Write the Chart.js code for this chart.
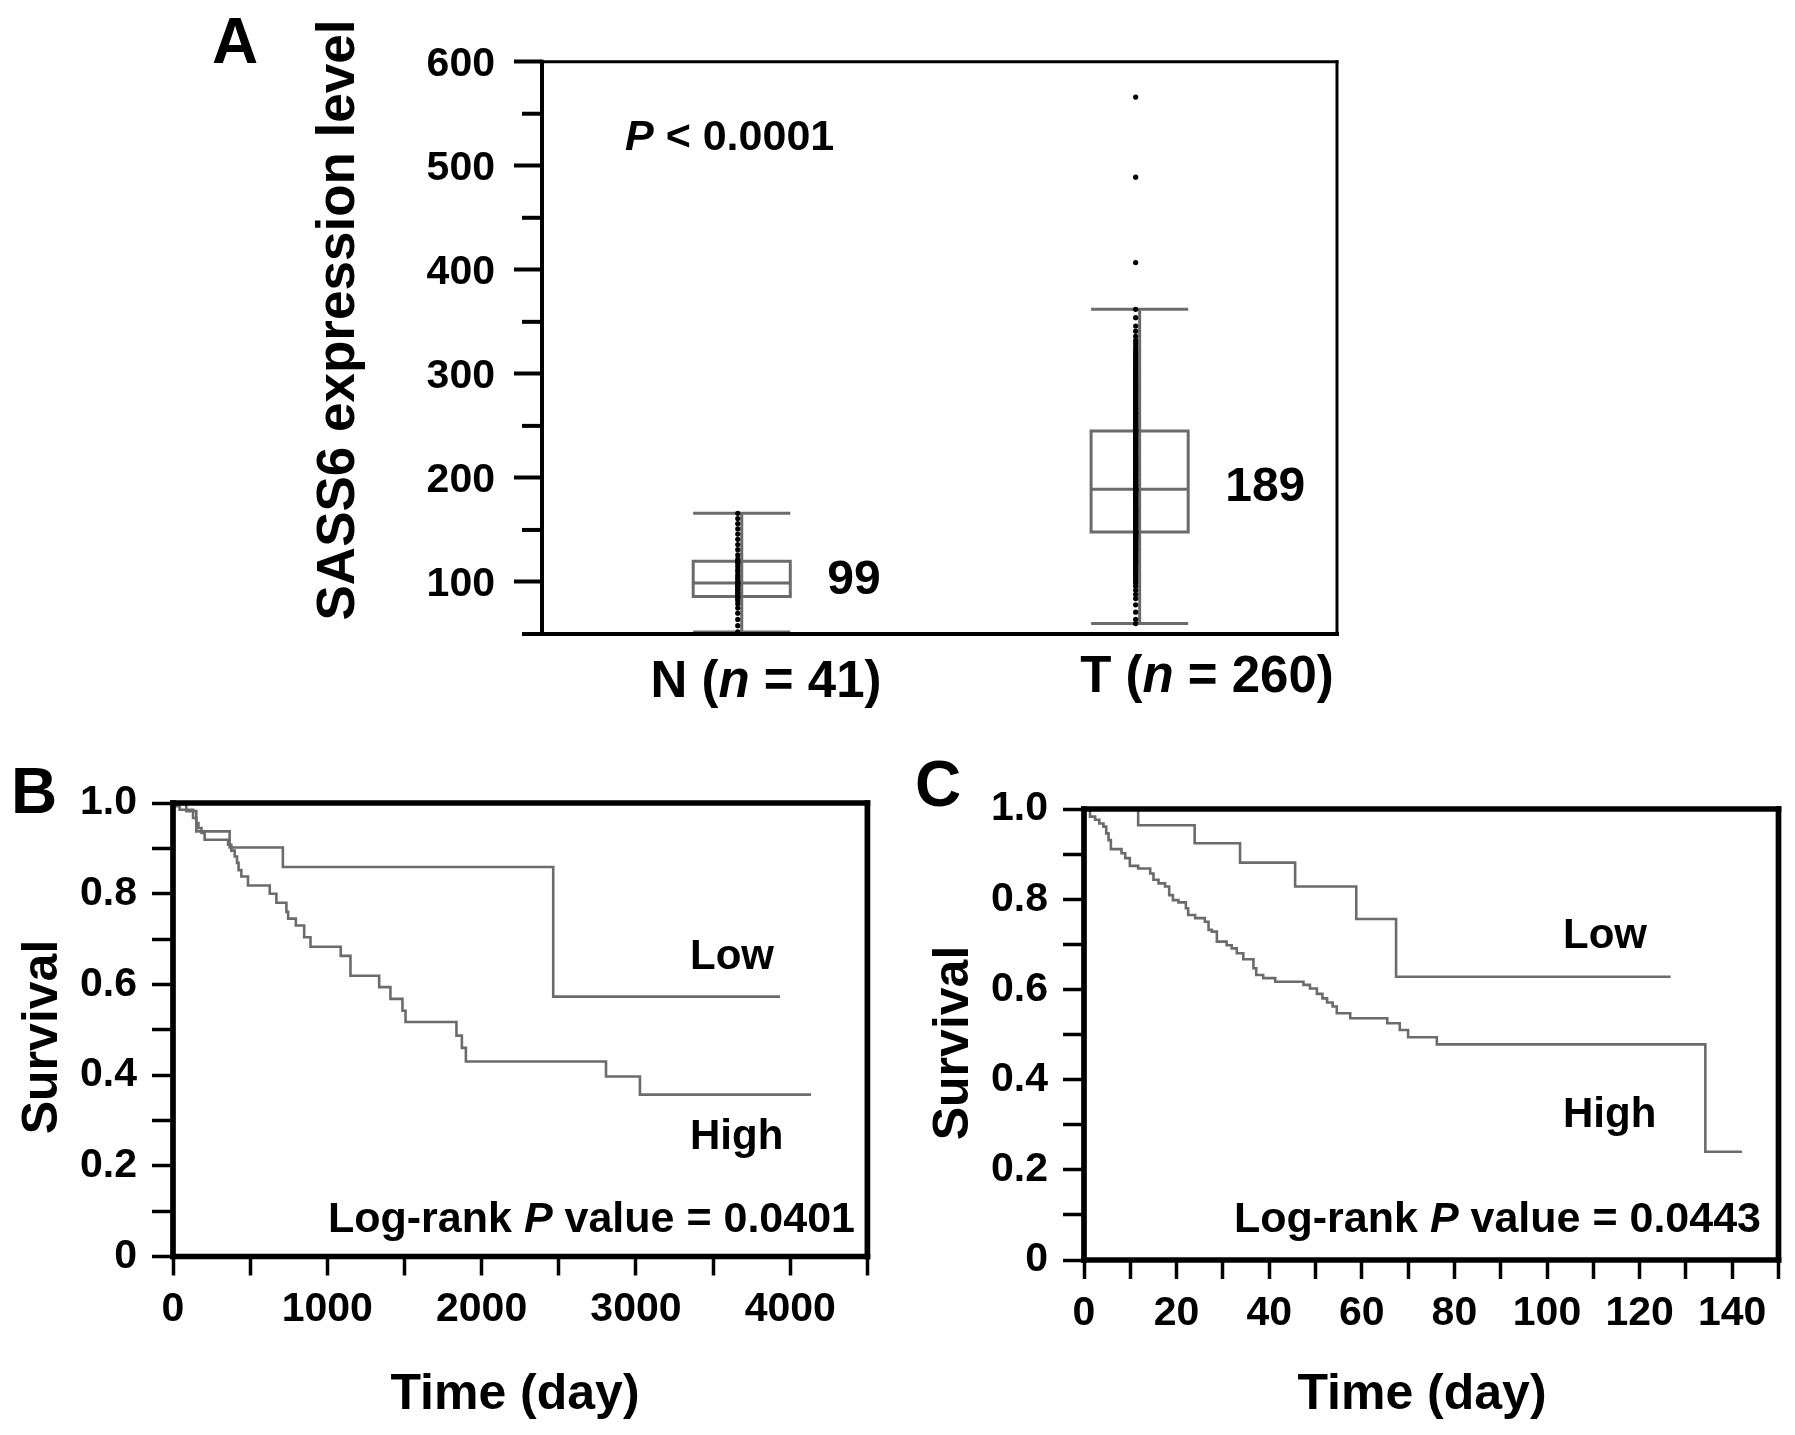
<!DOCTYPE html>
<html>
<head>
<meta charset="utf-8">
<script src="https://cdn.jsdelivr.net/npm/chart.js@4.4.1/dist/chart.umd.min.js"></script>
<style>
  html, body { margin: 0; padding: 0; background: #fff; }
  #wrap { position: relative; width: 1795px; height: 1435px; background: #fff; }
  #wrap canvas { position: absolute; left: 0; top: 0; }
</style>
</head>
<body>
<div id="wrap">
  <canvas id="chartA" width="1795" height="1435"></canvas>
  <canvas id="chartB" width="1795" height="1435"></canvas>
  <canvas id="chartC" width="1795" height="1435"></canvas>
</div>
<script>
// ---- panel A: SASS6 expression, normal vs tumour ----
const groups = ['N', 'T'];
const groupSizes = [41, 260];
const q1 = [86, 148];
const medians = [99, 189];
const q3 = [120, 245];
const whiskLo = [52, 60];
const whiskHi = [166, 362];
const exprN = [
  52, 58, 64, 70, 75, 79, 82, 84, 85, 86,
  87, 89, 90, 92, 93, 95, 96, 97, 98, 99,
  99, 101, 103, 105, 107, 110, 112, 115, 118, 119,
  120, 122, 126, 131, 136, 141, 146, 151, 156, 161,
  166
];
const exprT = [
  60, 64, 71, 78, 84, 88, 92, 96, 99, 101,
  103, 105, 107, 109, 110, 112, 113, 114, 116, 117,
  118, 119, 120, 121, 122, 123, 124, 125, 126, 127,
  128, 129, 130, 131, 132, 132, 133, 134, 135, 136,
  136, 137, 138, 139, 139, 140, 141, 141, 142, 143,
  143, 144, 144, 145, 145, 146, 146, 147, 147, 147,
  148, 148, 148, 148, 148, 149, 150, 150, 151, 152,
  152, 153, 154, 154, 155, 156, 156, 157, 158, 158,
  159, 160, 160, 161, 162, 162, 163, 164, 164, 165,
  166, 166, 167, 168, 168, 169, 170, 170, 171, 172,
  172, 173, 174, 174, 175, 176, 176, 177, 178, 178,
  179, 180, 180, 181, 182, 182, 183, 184, 184, 185,
  186, 186, 187, 187, 188, 188, 189, 189, 189, 190,
  190, 191, 192, 193, 193, 194, 195, 196, 197, 198,
  198, 199, 200, 201, 202, 203, 203, 204, 205, 206,
  207, 208, 208, 209, 210, 211, 212, 213, 213, 214,
  215, 216, 217, 218, 219, 220, 221, 222, 223, 224,
  225, 226, 227, 228, 229, 230, 231, 232, 233, 234,
  235, 236, 237, 238, 239, 240, 241, 242, 243, 244,
  245, 245, 246, 246, 246, 247, 248, 249, 250, 251,
  252, 253, 254, 256, 257, 258, 259, 261, 262, 263,
  264, 266, 267, 268, 270, 271, 272, 274, 275, 276,
  278, 279, 280, 282, 283, 285, 286, 287, 289, 290,
  292, 293, 295, 296, 298, 299, 301, 302, 304, 306,
  307, 309, 311, 313, 315, 317, 319, 321, 323, 326,
  329, 332, 336, 341, 346, 354, 362, 407, 489, 566
];
const exprTicks = [100, 200, 300, 400, 500, 600];

// ---- panel B: survival, days up to ~4100 ----
const bLowTime = [0, 86, 151, 367, 712, 2464, 3934];
const bLowSurv = [1, 0.982, 0.9375, 0.902, 0.859, 0.573, 0.573];
const bHighTime = [0, 22, 43, 130, 151, 165, 185, 205, 357, 378, 400, 415, 425, 443, 486, 627, 670, 735, 746, 796,
  850, 891, 1087, 1150, 1336, 1409, 1487, 1507, 1837, 1872, 1898, 2806, 3026, 4135];
const bHighSurv = [1, 0.993, 0.985, 0.967, 0.956, 0.945, 0.934, 0.919, 0.908, 0.895, 0.882, 0.868, 0.852, 0.838, 0.818, 0.80, 0.78, 0.76, 0.745, 0.73,
  0.704, 0.683, 0.663, 0.619, 0.594, 0.568, 0.542, 0.517, 0.487, 0.46, 0.43, 0.397, 0.357, 0.357];
const bTimeTicks = [0, 1000, 2000, 3000, 4000];

// ---- panel C: survival, days up to ~142 ----
const cLowTime = [0, 11.7, 23.9, 33.7, 45.6, 58.8, 67.4, 126.7];
const cLowSurv = [1, 0.964, 0.924, 0.881, 0.828, 0.756, 0.628, 0.628];
const cHighTime = [0, 1.3, 2.4, 3.3, 4.2, 4.8, 5.3, 5.8, 8.1, 8.9, 9.9, 11.7, 14.3, 15.0, 16.1, 17.5, 18.4, 19.2, 20.4, 22.0,
  22.5, 24.0, 26.1, 26.9, 27.6, 28.7, 30.8, 31.9, 33.0, 34.4, 36.6, 37.2, 38.7, 41.3, 47.4, 48.8, 50.3, 51.5, 52.5, 53.7,
  54.6, 57.5, 65.5, 68.2, 70.0, 76.2, 134.2, 142.1];
const cHighSurv = [1, 0.983, 0.976, 0.968, 0.961, 0.946, 0.931, 0.911, 0.902, 0.891, 0.874, 0.868, 0.857, 0.843, 0.835, 0.828, 0.809, 0.798, 0.793, 0.780,
  0.765, 0.758, 0.750, 0.732, 0.728, 0.706, 0.698, 0.691, 0.680, 0.667, 0.647, 0.632, 0.625, 0.617, 0.610, 0.602, 0.590, 0.580, 0.571, 0.562,
  0.547, 0.536, 0.525, 0.510, 0.494, 0.478, 0.240, 0.240];
const cTimeTicks = [0, 20, 40, 60, 80, 100, 120, 140];

const survTicks = [0, 0.2, 0.4, 0.6, 0.8, 1.0];

// ---- look ----
const W = 1795, H = 1435;
const FONT = '"Liberation Sans", Arial, Helvetica, sans-serif';
const GREY = '#6b6b6b';
const BOX_HALF = 0.122;
const DOT_SHIFT = -0.01;

Chart.defaults.font.family = FONT;
Chart.defaults.color = '#000';

function fontStr(size, italic) {
  return (italic ? 'italic ' : '') + 'bold ' + size + 'px ' + FONT;
}

// draw text made of plain/italic pieces
function drawRich(ctx, parts, x, y, size, align) {
  let total = 0;
  const widths = parts.map(p => {
    ctx.font = fontStr(size, p[1]);
    const w = ctx.measureText(p[0]).width;
    total += w;
    return w;
  });
  let cx = align === 'center' ? x - total / 2 : (align === 'right' ? x - total : x);
  ctx.textAlign = 'left';
  parts.forEach((p, i) => {
    ctx.font = fontStr(size, p[1]);
    ctx.fillText(p[0], cx, y);
    cx += widths[i];
  });
}

function vText(ctx, text, x, y, size) {
  ctx.save();
  ctx.translate(x, y);
  ctx.rotate(-Math.PI / 2);
  ctx.font = fontStr(size, false);
  ctx.textAlign = 'center';
  ctx.textBaseline = 'alphabetic';
  ctx.fillText(text, 0, 0);
  ctx.restore();
}

function frame(ctx, a, wl, wb, wt, wr) {
  ctx.save();
  ctx.strokeStyle = '#000';
  ctx.lineCap = 'square';
  const line = (x1, y1, x2, y2, w) => {
    ctx.lineWidth = w;
    ctx.beginPath(); ctx.moveTo(x1, y1); ctx.lineTo(x2, y2); ctx.stroke();
  };
  line(a.left, a.top, a.right, a.top, wt);
  line(a.right, a.top, a.right, a.bottom, wr);
  line(a.left, a.bottom, a.right, a.bottom, wb);
  line(a.left, a.top, a.left, a.bottom, wl);
  ctx.restore();
}

function isTick(list, v) {
  return list.some(t => Math.abs(t - v) < 1e-6);
}

// ================= Panel A =================
const areaA = { left: 542, top: 61.7, right: 1337, bottom: 634 };

const seg = (pts, cap) => ({
  data: pts.map(p => ({ x: p[0], y: p[1] })),
  showLine: true,
  borderColor: GREY,
  borderWidth: 3,
  borderCapStyle: cap || 'butt',
  borderJoinStyle: 'miter',
  pointRadius: 0,
  fill: false
});

const dotSets = [exprN, exprT].map((vals, i) => ({
  data: vals.map(v => ({ x: i + 1 + DOT_SHIFT, y: v })),
  showLine: false,
  pointRadius: 2.6,
  pointBackgroundColor: '#000',
  pointBorderWidth: 0
}));

const boxSets = [];
groups.forEach((g, i) => {
  const x = i + 1;
  boxSets.push(seg([[x - BOX_HALF, q1[i]], [x + BOX_HALF, q1[i]], [x + BOX_HALF, q3[i]], [x - BOX_HALF, q3[i]], [x - BOX_HALF, q1[i]]], 'square'));
  boxSets.push(seg([[x - BOX_HALF, medians[i]], [x + BOX_HALF, medians[i]]]));
  boxSets.push(seg([[x, whiskLo[i]], [x, whiskHi[i]]]));
  boxSets.push(seg([[x - BOX_HALF, whiskLo[i]], [x + BOX_HALF, whiskLo[i]]]));
  boxSets.push(seg([[x - BOX_HALF, whiskHi[i]], [x + BOX_HALF, whiskHi[i]]]));
});

const decorA = {
  id: 'decorA',
  afterDraw(chart) {
    const ctx = chart.ctx;
    const a = chart.chartArea;
    const xs = chart.scales.x, ys = chart.scales.y;
    frame(ctx, a, 4, 4, 3, 3);
    // minor ticks (shorter than the labelled ones)
    ctx.save();
    ctx.strokeStyle = '#000';
    ctx.lineWidth = 4;
    for (let v = 50; v < 600; v += 100) {
      const y = ys.getPixelForValue(v);
      ctx.beginPath(); ctx.moveTo(a.left - 20, y); ctx.lineTo(a.left, y); ctx.stroke();
    }
    ctx.fillStyle = '#000';
    ctx.textBaseline = 'alphabetic';
    ctx.font = fontStr(64, false);
    ctx.textAlign = 'left';
    ctx.fillText('A', 212, 63);
    vText(ctx, 'SASS6 expression level', 354, 320, 53);
    drawRich(ctx, [['P', true], [' < 0.0001', false]], 625, 150, 43, 'left');
    // median values beside the boxes
    ctx.font = fontStr(48, false);
    ctx.textAlign = 'left';
    ctx.textBaseline = 'middle';
    groups.forEach((g, i) => {
      const x = xs.getPixelForValue(i + 1 + BOX_HALF) + 37;
      ctx.fillText(String(medians[i]), x, ys.getPixelForValue(medians[i]) - 2);
    });
    // category labels
    ctx.textBaseline = 'alphabetic';
    const labelX = [766, 1207];
    const labelY = [697, 692];
    groups.forEach((g, i) => {
      drawRich(ctx, [[g + ' (', false], ['n', true], [' = ' + groupSizes[i] + ')', false]], labelX[i], labelY[i], 51, 'center');
    });
    ctx.restore();
  }
};

new Chart(document.getElementById('chartA'), {
  type: 'scatter',
  data: { datasets: dotSets.concat(boxSets) },
  options: {
    responsive: false,
    animation: false,
    events: [],
    devicePixelRatio: 1,
    layout: { padding: { left: 0, top: areaA.top, right: W - areaA.right, bottom: H - areaA.bottom } },
    plugins: { legend: { display: false }, tooltip: { enabled: false } },
    scales: {
      x: { type: 'linear', display: false, min: 0.498, max: 2.496 },
      y: {
        type: 'linear', min: 50, max: 600,
        afterFit: s => { s.width = areaA.left; },
        border: { display: false },
        grid: {
          drawOnChartArea: false, drawTicks: true, tickLength: 28, tickWidth: 4,
          tickColor: c => (c.tick && isTick(exprTicks, c.tick.value)) ? '#000' : 'rgba(0,0,0,0)'
        },
        ticks: {
          stepSize: 50, padding: 19, labelOffset: 3, autoSkip: false,
          font: { size: 41, weight: 'bold' }, color: '#000',
          callback: v => isTick(exprTicks, v) ? String(v) : ''
        }
      }
    }
  },
  plugins: [decorA]
});

// ================= Panels B and C =================
function kmSet(times, surv) {
  return {
    data: times.map((t, i) => ({ x: t, y: surv[i] })),
    showLine: true,
    stepped: true,
    borderColor: GREY,
    borderWidth: 2.6,
    pointRadius: 0,
    fill: false
  };
}

function kmChart(id, area, xMax, xStep, xTicks, sets, deco) {
  return new Chart(document.getElementById(id), {
    type: 'scatter',
    data: { datasets: sets },
    options: {
      responsive: false,
      animation: false,
      events: [],
      devicePixelRatio: 1,
      layout: { padding: { left: 0, top: area.top, right: W - area.right, bottom: 0 } },
      plugins: { legend: { display: false }, tooltip: { enabled: false } },
      scales: {
        x: {
          type: 'linear', min: 0, max: xMax,
          afterFit: s => { s.height = H - area.bottom; },
          border: { display: false },
          grid: { drawOnChartArea: false, drawTicks: true, tickLength: 19, tickWidth: 3.5, tickColor: '#000' },
          ticks: {
            stepSize: xStep, padding: 10, maxRotation: 0, autoSkip: false,
            font: { size: 41, weight: 'bold' }, color: '#000',
            callback: v => isTick(xTicks, v) ? String(v) : ''
          }
        },
        y: {
          type: 'linear', min: 0, max: 1,
          afterFit: s => { s.width = area.left; },
          border: { display: false },
          grid: { drawOnChartArea: false, drawTicks: true, tickLength: 21, tickWidth: 3.5, tickColor: '#000' },
          ticks: {
            stepSize: 0.1, padding: 15, autoSkip: false,
            font: { size: 41, weight: 'bold' }, color: '#000',
            callback: v => isTick(survTicks, v) ? (Math.abs(v) < 1e-6 ? '0' : v.toFixed(1)) : ''
          }
        }
      }
    },
    plugins: [deco]
  });
}

function kmDecor(id, letter, letterPos, survPos, timePos, lowPos, highPos, logPos, pText) {
  return {
    id: id,
    afterDraw(chart) {
      const ctx = chart.ctx;
      frame(ctx, chart.chartArea, 5.7, 5.7, 5.7, 5.7);
      ctx.save();
      ctx.fillStyle = '#000';
      ctx.textBaseline = 'alphabetic';
      ctx.textAlign = 'left';
      ctx.font = fontStr(64, false);
      ctx.fillText(letter, letterPos[0], letterPos[1]);
      vText(ctx, 'Survival', survPos[0], survPos[1], 50);
      ctx.font = fontStr(50, false);
      ctx.textAlign = 'center';
      ctx.fillText('Time (day)', timePos[0], timePos[1]);
      ctx.textAlign = 'left';
      ctx.font = fontStr(42, false);
      ctx.fillText('Low', lowPos[0], lowPos[1]);
      ctx.fillText('High', highPos[0], highPos[1]);
      drawRich(ctx, [['Log-rank ', false], ['P', true], [' value = ' + pText, false]], logPos[0], logPos[1], 43, 'left');
      ctx.restore();
    }
  };
}

const areaB = { left: 173, top: 803, right: 867.4, bottom: 1256.5 };
kmChart('chartB', areaB, 4500, 500, bTimeTicks,
  [kmSet(bLowTime, bLowSurv), kmSet(bHighTime, bHighSurv)],
  kmDecor('decorB', 'B', [11, 813], [57, 1037], [515, 1409], [690, 969], [690, 1149], [328, 1232], '0.0401'));

const areaC = { left: 1084, top: 809, right: 1778.5, bottom: 1260 };
kmChart('chartC', areaC, 150, 10, cTimeTicks,
  [kmSet(cLowTime, cLowSurv), kmSet(cHighTime, cHighSurv)],
  kmDecor('decorC', 'C', [915, 806], [968, 1043], [1422, 1409], [1563, 948], [1563, 1127], [1234, 1232], '0.0443'));
</script>
</body>
</html>
